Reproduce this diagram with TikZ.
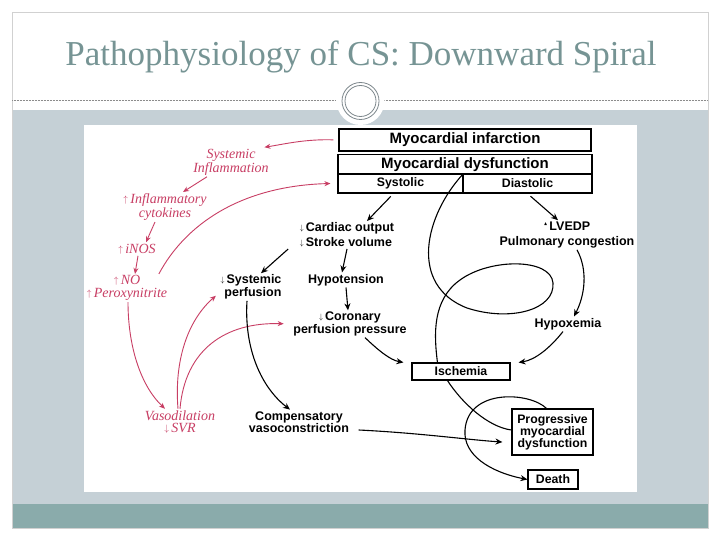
\documentclass[tikz,border=0pt]{standalone}
\usepackage{fontspec}
\usepackage{amssymb}
\setmainfont{Liberation Serif}
\setsansfont{Liberation Sans}
\usetikzlibrary{arrows.meta,calc}
\definecolor{titlegray}{RGB}{118,148,148}
\definecolor{bandgray}{RGB}{197,208,214}
\definecolor{bandteal}{RGB}{138,171,171}
\definecolor{ringgray}{RGB}{125,135,140}
\definecolor{pathred}{RGB}{200,62,100}
\def\dar{\raisebox{0.15ex}{\scalebox{0.65}{$\downarrow$}}\,}
\def\uar{\raisebox{0.15ex}{\scalebox{0.65}{$\uparrow$}}\,}
\def\tri{\raisebox{0.7ex}{\scalebox{0.4}{$\blacktriangle$}}\,}

\begin{document}
\begin{tikzpicture}[x=1pt,y=-1pt]
    \tikzset{
        box/.style={draw=black, line width=1.1pt, inner sep=0pt, align=center,
            font=\sffamily\bfseries\fontsize{12.3}{11.5}\selectfont},
        head/.style={box, font=\sffamily\bfseries\fontsize{15}{15}\selectfont},
        lbl/.style={inner sep=1.5pt, align=center,
            font=\sffamily\bfseries\fontsize{12.5}{12.5}\selectfont},
        red lbl/.style={inner sep=1.5pt, align=center, text=pathred,
            font=\itshape\fontsize{14}{12.5}\selectfont},
        blk arrow/.style={-{Stealth[length=7pt,width=6pt]}, line width=1.1pt},
        red arrow/.style={-{Stealth[length=6pt,width=5pt]}, line width=0.9pt, pathred},
        spiral/.style={line width=1.1pt},
    }
    \useasboundingbox (0,0) rectangle (720,540);

    % slide background
    \fill[bandgray] (12,110) rectangle (708,504);
    \fill[bandteal] (12,504) rectangle (708,528);
    \draw[black!18, line width=0.5pt] (12,12) rectangle (708,528);
    \draw[black!45, densely dotted, line width=0.5pt] (12,100) -- (336,100);
    \draw[black!45, densely dotted, line width=0.5pt] (384,100) -- (708,100);
    \fill[white] (360.5,101) circle (24);
    \draw[ringgray, line width=0.8pt] (360.5,101) circle (18.5);
    \draw[ringgray, line width=0.8pt] (360.5,101) circle (15.5);
    \node[anchor=base, text=titlegray, inner sep=0pt, font=\fontsize{35}{40}\selectfont] (title) at (361,66) {Pathophysiology of CS: Downward Spiral};
    \fill[white] (84,125) rectangle (637,492);

    % boxes
    \node[head, minimum width=252, minimum height=22] (mi) at (465,140) {Myocardial infarction};
    \node[head, minimum width=254, minimum height=19.5] (md) at (465,164.5) {Myocardial dysfunction};
    \node[box, minimum width=125, minimum height=19] (sys) at (400.5,183.5) {Systolic};
    \node[box, minimum width=129, minimum height=19] (dia) at (527.5,183.5) {Diastolic};
    \node[box, minimum width=98, minimum height=17] (isch) at (461,371.5) {Ischemia};
    \node[box, minimum width=81, minimum height=46] (pmd) at (552.5,432) {Progressive\\myocardial\\dysfunction};
    \node[box, minimum width=50, minimum height=19] (death) at (553,479.5) {Death};

    % black labels
    \node[lbl, align=left, font=\sffamily\bfseries\fontsize{12.5}{15}\selectfont] (co) at (347,235) {\dar Cardiac output\\\dar Stroke volume};
    \node[lbl, align=right] (sp) at (251,287) {\dar Systemic\\perfusion};
    \node[lbl] (hyp) at (346,280) {Hypotension};
    \node[lbl] (cpp) at (350,324) {\dar Coronary\\perfusion pressure};
    \node[lbl, font=\sffamily\bfseries\fontsize{12.5}{15}\selectfont] (lv) at (567,235) {\tri LVEDP\\Pulmonary congestion};
    \node[lbl] (hx) at (568,324) {Hypoxemia};
    \node[lbl] (cv) at (299,422) {Compensatory\\vasoconstriction};

    % red labels
    \node[red lbl] (si) at (231,162) {Systemic\\Inflammation};
    \node[red lbl] (ic) at (165,207) {\uar Inflammatory\\cytokines};
    \node[red lbl] (inos) at (137,249) {\uar iNOS};
    \node[red lbl] (no) at (127,288) {\uar NO\\\uar Peroxynitrite};
    \node[red lbl] (vd) at (180,422) {Vasodilation\\\dar SVR};

    % red arrows
    \draw[red arrow, shorten <=5pt] (mi.west) .. controls (305,139) and (285,144) .. ([xshift=-6pt]si.north east);
    \draw[red arrow] ([xshift=-24pt]si.south) -- ([xshift=18pt]ic.north);
    \draw[red arrow] ([xshift=-10pt]ic.south) -- ([xshift=9pt]inos.north);
    \draw[red arrow] ([xshift=1pt]inos.south) -- ([xshift=8pt]no.north);
    \draw[red arrow] ([xshift=-10pt]no.north east) .. controls (185,225) and (240,186) .. ([xshift=-7pt]sys.west);
    \draw[red arrow] ([xshift=1pt]no.south) .. controls (128,345) and (140,385) .. ([xshift=-15pt]vd.north);
    \draw[red arrow] ([xshift=-2pt]vd.north) .. controls (174,360) and (188,320) .. ([xshift=-3pt,yshift=5pt]sp.south west);
    \draw[red arrow, shorten >=8pt] (vd.north) .. controls (185,350) and (225,322) .. (cpp.west);

    % black arrows
    \draw[blk arrow, shorten <=4pt] ([xshift=-7pt]sys.south) -- ([xshift=20pt]co.north);
    \draw[blk arrow] ([xshift=-10pt]co.south west) -- ([xshift=10pt]sp.north);
    \draw[blk arrow] (co.south) -- ([xshift=-4pt]hyp.north);
    \draw[blk arrow] (hyp.south) -- ([xshift=-2pt]cpp.north);
    \draw[blk arrow] ([xshift=15pt]cpp.south) .. controls (378,350) and (390,360) .. ([xshift=-8pt]isch.north west);
    \draw[blk arrow, shorten <=4pt] (dia.south) -- ([xshift=-9pt]lv.north);
    \draw[blk arrow] ([xshift=10pt]lv.south) .. controls (588,270) and (585,295) .. ([xshift=6pt]hx.north);
    \draw[blk arrow] ([xshift=-5pt]hx.south) .. controls (550,348) and (535,360) .. ([xshift=8pt]isch.north east);
    \draw[blk arrow] ([xshift=-4pt]sp.south) .. controls (244,350) and (262,388) .. ([xshift=-9pt]cv.north);
    \draw[blk arrow] ([xshift=8pt,yshift=-8pt]cv.east) .. controls (420,433) and (470,440) .. ([xshift=-9pt,yshift=-10pt]pmd.west);

    % downward spiral
    \draw[spiral] (sys.north east) .. controls (425,215) and (408,285) .. (467,308)
        .. controls (510,322) and (555,310) .. (553,283)
        .. controls (551,258) and (490,258) .. (460,280)
        .. controls (432,300) and (434,335) .. ([xshift=26pt]isch.north west);
    \draw[spiral] ([xshift=36pt]isch.south west) .. controls (462,403) and (488,427) .. ([yshift=2pt]pmd.west);
    \draw[spiral, blk arrow] ([xshift=-6pt]pmd.north) .. controls (530,392) and (468,388) .. (465,430)
        .. controls (463,455) and (490,472) .. (death.west);
\end{tikzpicture}
\end{document}
